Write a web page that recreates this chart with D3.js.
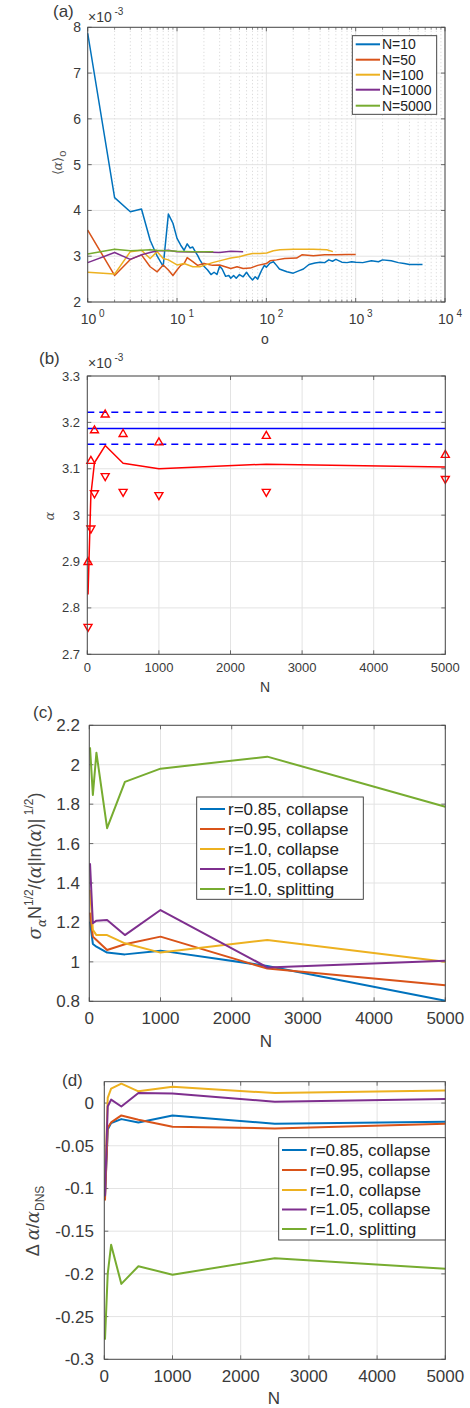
<!DOCTYPE html>
<html><head><meta charset="utf-8">
<script src="https://cdn.jsdelivr.net/npm/d3@7"></script>
<style>body{margin:0;background:#fff}svg{display:block}</style>
</head><body>
<script>
// ---------- DATA ----------
// Panel (a): running mean <alpha>_o (units 1e-3) vs o
const oN10 = [1,2,3,4,5,6,7,8,9,10,11,12,13,14,15,16,17,18,19,20,22,24,26,28,30,32,35,38,40,43,46,50,55,60,65,70,75,80,85,90,95,100,110,120,130,140,150,170,200,230,260,300,350,400,450,500,550,600,700,800,900,1000,1200,1500,1800,2000,2500,3000,3500,4000,4500,5600];
const aN10 = [7.87,4.28,3.97,4.03,3.35,3.0,2.78,3.92,3.72,3.39,3.24,3.13,3.27,3.18,3.2,3.1,3.02,2.92,2.85,2.78,2.70,2.60,2.65,2.60,2.78,2.72,2.56,2.58,2.52,2.58,2.52,2.60,2.55,2.65,2.55,2.48,2.55,2.50,2.62,2.72,2.80,2.76,2.85,2.88,2.80,2.72,2.70,2.66,2.63,2.68,2.72,2.82,2.85,2.87,2.86,2.92,2.89,2.93,2.87,2.86,2.88,2.87,2.86,2.90,2.88,2.92,2.90,2.86,2.84,2.82,2.82,2.82];
const oN50 = [1,2,3,4,5,6,7,8,9,10,11,12,13,15,17,20,25,30,40,47,55,66,80,100,110,130,160,218,250,336,450,600,800,1000];
const aN50 = [3.57,2.58,2.93,3.03,2.77,2.66,2.81,2.70,2.58,2.70,2.80,2.84,2.97,2.88,2.80,2.84,2.80,2.81,2.73,2.77,2.73,2.74,2.80,2.84,2.90,2.92,2.95,2.96,3.03,3.01,3.03,3.03,3.04,3.04];
const oN100 = [1,2,3,4,5,6,7,8,10,12,15,18,20,25,33,40,50,60,70,85,101,120,142,200,336,475,555];
const aN100 = [2.65,2.61,3.10,3.13,2.95,3.10,2.95,2.92,2.81,2.84,2.77,2.77,2.80,2.86,2.92,2.96,2.99,3.03,3.06,3.06,3.07,3.12,3.14,3.15,3.15,3.14,3.10];
const oN1000 = [1,2,3,4,5,6,7,8,10,15,20,30,40,55];
const aN1000 = [2.86,3.08,2.93,3.03,3.08,3.12,3.12,3.13,3.10,3.09,3.09,3.08,3.11,3.10];
const oN5000 = [1,2,3,4,5,6,8,10,15,20,25.5];
const aN5000 = [3.05,3.15,3.12,3.13,3.14,3.13,3.12,3.11,3.10,3.10,3.10];
const legendA = ["N=10","N=50","N=100","N=1000","N=5000"];

// Panels (b)-(d): ensemble size N
const Nvals = [10,50,100,250,500,1000,2500,5000];
// Panel (b): alpha (units 1e-3)
const alphaMean  = [2.829,3.044,3.113,3.150,3.112,3.100,3.110,3.104];
const alphaUpper = [2.900,3.118,3.184,3.218,3.176,3.158,3.172,3.131];
const alphaLower = [2.758,2.970,3.046,3.083,3.049,3.042,3.049,3.077];
const dnsMean = 3.187, dnsUpper = 3.222, dnsLower = 3.153;

// Panel (c): normalised std
const cR085 = [1.204,1.091,1.077,1.047,1.038,1.057,0.979,0.803];
const cR095 = [1.25,1.128,1.111,1.060,1.089,1.128,0.966,0.881];
const cR100 = [1.365,1.162,1.136,1.136,1.094,1.047,1.111,1.001];
const cR105 = [1.50,1.196,1.209,1.212,1.136,1.263,0.972,1.006];
const cSplit = [2.088,1.847,2.061,1.678,1.913,1.980,2.041,1.787];
// Panel (d): relative error
const dR085 = [-0.110,-0.031,-0.0234,-0.0188,-0.0227,-0.0145,-0.0242,-0.0219];
const dR095 = [-0.114,-0.029,-0.0227,-0.0145,-0.0195,-0.0277,-0.0297,-0.0242];
const dR100 = [-0.100,0.006,0.0168,0.0227,0.0137,0.0191,0.0117,0.0148];
const dR105 = [-0.109,-0.004,0.004,-0.004,0.0117,0.0113,0.0016,0.0047];
const dSplit = [-0.277,-0.200,-0.166,-0.2117,-0.191,-0.201,-0.1816,-0.194];
const legendCD = ["r=0.85, collapse","r=0.95, collapse","r=1.0, collapse","r=1.05, collapse","r=1.0, splitting"];

const colors = ["#0072BD","#D95319","#EDB120","#7E2F8E","#77AC30"];

// ---------- DRAW ----------
const FONT = "'Liberation Sans', Arial, Helvetica, sans-serif";
const TXT = "#3a3a3a", AX = "#4a4a4a", GRID = "#e3e3e3";
const svg = d3.select("body").append("svg").attr("width",470).attr("height",1408)
  .style("font-family",FONT);

function frame(g, x, y, yTicks, xTicks, opts={}) {
  const [x0,x1] = x.range(), [y1,y0] = y.range();
  const tl = opts.tick || 4;
  g.append("g").selectAll("line").data(yTicks).join("line")
    .attr("x1",x0).attr("x2",x1).attr("y1",d=>y(d)).attr("y2",d=>y(d))
    .attr("stroke",GRID).attr("stroke-width",1);
  g.append("g").selectAll("line").data(xTicks).join("line")
    .attr("y1",y0).attr("y2",y1).attr("x1",d=>x(d)).attr("x2",d=>x(d))
    .attr("stroke",GRID).attr("stroke-width",1);
  const tk = g.append("g").attr("stroke",AX).attr("stroke-width",0.8);
  yTicks.forEach(d=>{
    tk.append("line").attr("x1",x0).attr("x2",x0+tl).attr("y1",y(d)).attr("y2",y(d));
    tk.append("line").attr("x1",x1).attr("x2",x1-tl).attr("y1",y(d)).attr("y2",y(d));
  });
  xTicks.forEach(d=>{
    tk.append("line").attr("y1",y1).attr("y2",y1-tl).attr("x1",x(d)).attr("x2",x(d));
    tk.append("line").attr("y1",y0).attr("y2",y0+tl).attr("x1",x(d)).attr("x2",x(d));
  });
}
function box(g,x,y){
  const [x0,x1] = x.range(), [y1,y0] = y.range();
  g.append("rect").attr("x",x0).attr("y",y0).attr("width",x1-x0).attr("height",y1-y0)
    .attr("fill","none").attr("stroke",AX).attr("stroke-width",1);
}
function yLabels(g,x,y,ticks,fmt,fs,xr){
  g.append("g").selectAll("text").data(ticks).join("text")
    .attr("x",xr).attr("y",d=>y(d)).attr("dy","0.35em").attr("text-anchor","end")
    .attr("font-size",fs).attr("fill",TXT).text(fmt);
}
function xLabels(g,x,ticks,fmt,fs,yc){
  g.append("g").selectAll("text").data(ticks).join("text")
    .attr("x",d=>x(d)).attr("y",yc).attr("dy","0.35em").attr("text-anchor","middle")
    .attr("font-size",fs).attr("fill",TXT).text(fmt);
}
function legend(g,x0,y0,w,h,rows,labels,sx0,sx1,tx,fs){
  g.append("rect").attr("x",x0).attr("y",y0).attr("width",w).attr("height",h)
    .attr("fill","#fff").attr("stroke","#333").attr("stroke-width",0.9);
  labels.forEach((l,i)=>{
    g.append("line").attr("x1",sx0).attr("x2",sx1).attr("y1",rows[i]).attr("y2",rows[i])
      .attr("stroke",colors[i]).attr("stroke-width",2);
    g.append("text").attr("x",tx).attr("y",rows[i]).attr("dy","0.35em")
      .attr("font-size",fs).attr("fill","#222").text(l);
  });
}
function times10(g,x,yb){
  const t = g.append("text").attr("x",x).attr("y",yb).attr("font-size",14).attr("fill",TXT);
  t.append("tspan").text("\u00d710");
  t.append("tspan").attr("dy",-7).attr("font-size",10).text(" -3");
}

// ----- Panel (a)
{
  const g = svg.append("g");
  const x = d3.scaleLog().domain([1,1e4]).range([87.7,445]);
  const y = d3.scaleLinear().domain([2,8]).range([302,27.3]);
  const yT = d3.range(2,9,1), xT = [1,10,100,1000,10000];
  const minor = [];
  [1,10,100,1000].forEach(dc=>{for(let k=2;k<=9;k++) minor.push(dc*k);});
  g.append("g").selectAll("line").data(minor).join("line")
    .attr("x1",d=>x(d)).attr("x2",d=>x(d)).attr("y1",27.3).attr("y2",302)
    .attr("stroke","#c8c8c8").attr("stroke-width",0.8).attr("stroke-dasharray","1,2.5");
  frame(g,x,y,yT,xT);
  const mt = g.append("g").attr("stroke",AX).attr("stroke-width",0.6);
  minor.forEach(d=>{
    mt.append("line").attr("x1",x(d)).attr("x2",x(d)).attr("y1",302).attr("y2",299.5);
    mt.append("line").attr("x1",x(d)).attr("x2",x(d)).attr("y1",27.3).attr("y2",29.8);
  });
  const line = d3.line().x(d=>x(d[0])).y(d=>y(d[1]));
  const series = [[oN10,aN10],[oN50,aN50],[oN100,aN100],[oN1000,aN1000],[oN5000,aN5000]];
  series.forEach((s,i)=>{
    g.append("path").attr("d",line(s[0].map((o,j)=>[o,s[1][j]])))
      .attr("fill","none").attr("stroke",colors[i]).attr("stroke-width",1.5)
      .attr("stroke-linejoin","round");
  });
  box(g,x,y);
  yLabels(g,x,y,yT,d=>d,14,81);
  const xl = g.append("g").selectAll("text").data(xT).join("text")
    .attr("x",d=>x(d)+5).attr("y",324).attr("text-anchor","middle")
    .attr("font-size",14).attr("fill",TXT);
  xl.append("tspan").text("10");
  xl.append("tspan").attr("dy",-7).attr("font-size",10).text(d=>" "+Math.round(Math.log10(d)));
  g.append("text").attr("x",265).attr("y",344).attr("text-anchor","middle")
    .attr("font-size",14).attr("fill",TXT).text("o");
  times10(g,88,22);
  g.append("text").attr("x",53).attr("y",17).attr("font-size",17).attr("fill",TXT).text("(a)");
  const yl = g.append("text").attr("transform","translate(62,163) rotate(-90)")
    .attr("text-anchor","middle").attr("font-size",13).attr("fill","#555");
  yl.append("tspan").text("\u27e8");
  yl.append("tspan").attr("font-style","italic").attr("font-family","'DejaVu Serif', serif").text("\u03b1");
  yl.append("tspan").text("\u27e9");
  yl.append("tspan").attr("dy",4).attr("font-size",11).text("o");
  legend(g,352.3,35.7,84.4,78.6,[44.3,59.7,74.7,89.7,105.7],legendA,355.7,380,382,14);
}

// ----- Panel (b)
{
  const g = svg.append("g");
  const x = d3.scaleLinear().domain([0,5000]).range([87.3,445.3]);
  const y = d3.scaleLinear().domain([2.7,3.3]).range([654.3,376]);
  const yT = d3.range(2.7,3.31,0.1).map(d=>+d.toFixed(1)), xT = d3.range(0,5001,1000);
  frame(g,x,y,yT,xT);
  const [x0,x1] = x.domain();
  [[dnsMean,null],[dnsUpper,"7,5"],[dnsLower,"7,5"]].forEach(([v,da])=>{
    g.append("line").attr("x1",x(x0)).attr("x2",x(x1)).attr("y1",y(v)).attr("y2",y(v))
      .attr("stroke","#0000ff").attr("stroke-width",1.5).attr("stroke-dasharray",da);
  });
  const line = d3.line().x((d,i)=>x(Nvals[i])).y(d=>y(d));
  g.append("path").attr("d",line(alphaMean)).attr("fill","none").attr("stroke","#ff0000")
    .attr("stroke-width",1.5).attr("stroke-linejoin","round");
  g.append("g").selectAll("path").data(alphaUpper).join("path")
    .attr("transform",(d,i)=>`translate(${x(Nvals[i])},${y(d)})`)
    .attr("d","M0,-4L4,3L-4,3Z").attr("fill","none").attr("stroke","#ff0000").attr("stroke-width",1.4);
  g.append("g").selectAll("path").data(alphaLower).join("path")
    .attr("transform",(d,i)=>`translate(${x(Nvals[i])},${y(d)})`)
    .attr("d","M0,4L4,-3L-4,-3Z").attr("fill","none").attr("stroke","#ff0000").attr("stroke-width",1.4);
  box(g,x,y);
  yLabels(g,x,y,yT,d=>d===3?"3":d.toFixed(1),13,80);
  xLabels(g,x,xT,d=>d,13,667.5);
  g.append("text").attr("x",265).attr("y",687).attr("dy","0.35em").attr("text-anchor","middle")
    .attr("font-size",14).attr("fill",TXT).text("N");
  times10(g,88,368);
  g.append("text").attr("x",39).attr("y",364).attr("font-size",17).attr("fill",TXT).text("(b)");
  g.append("text").attr("transform","translate(54,516) rotate(-90)").attr("text-anchor","middle")
    .attr("font-size",13).attr("font-style","italic").attr("font-family","'DejaVu Serif', serif")
    .attr("fill","#555").text("\u03b1");
}

// ----- Panel (c)
{
  const g = svg.append("g");
  const x = d3.scaleLinear().domain([0,5000]).range([89.3,445.3]);
  const y = d3.scaleLinear().domain([0.8,2.2]).range([1001.3,725.3]);
  const yT = d3.range(0.8,2.21,0.2).map(d=>+d.toFixed(1)), xT = d3.range(0,5001,1000);
  frame(g,x,y,yT,xT);
  const line = d3.line().x((d,i)=>x(Nvals[i])).y(d=>y(d));
  [cR085,cR095,cR100,cR105,cSplit].forEach((s,i)=>{
    g.append("path").attr("d",line(s)).attr("fill","none").attr("stroke",colors[i])
      .attr("stroke-width",2).attr("stroke-linejoin","round");
  });
  box(g,x,y);
  yLabels(g,x,y,yT,d=>String(d),17,80);
  xLabels(g,x,xT,d=>d,17,1018);
  g.append("text").attr("x",266).attr("y",1041).attr("dy","0.35em").attr("text-anchor","middle")
    .attr("font-size",17).attr("fill",TXT).text("N");
  g.append("text").attr("x",33).attr("y",718).attr("font-size",17).attr("fill",TXT).text("(c)");
  const yl = g.append("text").attr("transform","translate(41,866) rotate(-90)")
    .attr("text-anchor","middle").attr("font-size",18).attr("fill","#444");
  const gr = "'DejaVu Serif', serif";
  yl.append("tspan").attr("font-style","italic").attr("font-family",gr).text("\u03c3");
  yl.append("tspan").attr("dy",5).attr("font-size",12).attr("font-style","italic").attr("font-family",gr).text("\u03b1");
  yl.append("tspan").attr("dy",-5).text("N");
  yl.append("tspan").attr("dy",-8).attr("font-size",12).text("1/2");
  yl.append("tspan").attr("dy",8).text("/(");
  yl.append("tspan").attr("font-style","italic").attr("font-family",gr).text("\u03b1");
  yl.append("tspan").text("|ln(");
  yl.append("tspan").attr("font-style","italic").attr("font-family",gr).text("\u03b1");
  yl.append("tspan").text(")|");
  yl.append("tspan").attr("dy",-8).attr("font-size",12).text(" 1/2");
  yl.append("tspan").attr("dy",8).text(")");
  legend(g,196.7,797,166.6,102.3,[809,829,849,869,889],legendCD,200,225,228,17);
}

// ----- Panel (d)
{
  const g = svg.append("g");
  const x = d3.scaleLinear().domain([0,5000]).range([104.3,445.3]);
  const y = d3.scaleLinear().domain([-0.3,0.025]).range([1359.3,1081.7]);
  const yT = [-0.3,-0.25,-0.2,-0.15,-0.1,-0.05,0], xT = d3.range(0,5001,1000);
  frame(g,x,y,yT,xT);
  const line = d3.line().x((d,i)=>x(Nvals[i])).y(d=>y(d));
  [dR085,dR095,dR100,dR105,dSplit].forEach((s,i)=>{
    g.append("path").attr("d",line(s)).attr("fill","none").attr("stroke",colors[i])
      .attr("stroke-width",2).attr("stroke-linejoin","round");
  });
  box(g,x,y);
  yLabels(g,x,y,yT,d=>String(d),17,94);
  xLabels(g,x,xT,d=>d,17,1376);
  g.append("text").attr("x",274).attr("y",1398).attr("dy","0.35em").attr("text-anchor","middle")
    .attr("font-size",17).attr("fill",TXT).text("N");
  g.append("text").attr("x",62).attr("y",1086).attr("font-size",17).attr("fill",TXT).text("(d)");
  const yl = g.append("text").attr("transform","translate(39,1221) rotate(-90)")
    .attr("text-anchor","middle").attr("font-size",18).attr("fill","#444");
  const gr = "'DejaVu Serif', serif";
  yl.append("tspan").text("\u0394 ");
  yl.append("tspan").attr("font-style","italic").attr("font-family",gr).text("\u03b1");
  yl.append("tspan").text("/");
  yl.append("tspan").attr("font-style","italic").attr("font-family",gr).text("\u03b1");
  yl.append("tspan").attr("dy",5).attr("font-size",12).text("DNS");
  legend(g,278.7,1137.7,166.6,102.3,[1150,1170,1190,1209.5,1229],legendCD,282,306.7,310,17);
}
</script>
</body></html>
